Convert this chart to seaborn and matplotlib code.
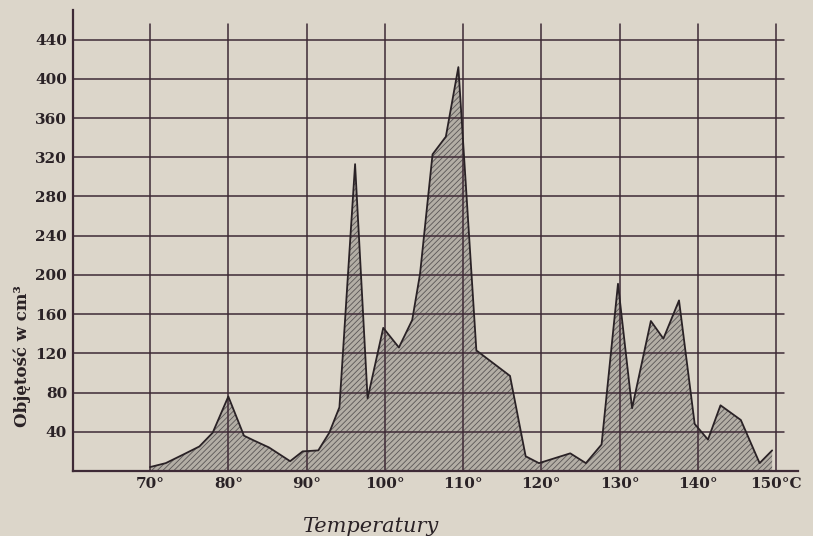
import numpy as np
import pandas as pd
import matplotlib.pyplot as plt
import seaborn as sns

# values (temperature in deg C, volume in cm3)
temps = [70, 72, 74.3, 76.3, 78, 80, 82, 83.3, 85.2, 87.9, 89.5, 91.5, 92.9,
         94.2, 96.2, 97.8, 99.8, 101.8, 103.5, 104.5, 106.1, 107.8, 109.4,
         111.7, 116, 118, 119.7, 121.7, 123.7, 125.7, 127.7, 129.8, 131.6,
         134, 135.6, 137.6, 139.6, 141.3, 142.9, 145.5, 147.9, 149.5]
volumes = [4, 8, 17, 25, 39, 76, 36, 31, 24, 10, 20, 21, 39,
           65, 313, 74, 146, 126, 154, 201, 323, 341, 412,
           123, 97, 15, 8, 13, 18, 8, 27, 191, 64,
           153, 135, 174, 48, 32, 67, 52, 8, 21]

x_ticks = [70, 80, 90, 100, 110, 120, 130, 140, 150]
x_labels = ["70°", "80°", "90°", "100°", "110°", "120°", "130°", "140°", "150°C"]
y_ticks = [40, 80, 120, 160, 200, 240, 280, 320, 360, 400, 440]

df = pd.DataFrame({"temp": temps, "vol": volumes})

sns.set_theme(style="white")
paper = "#dcd6ca"
ink = "#3e2a36"
plt.rcParams["font.family"] = ["DejaVu Serif"]
plt.rcParams["hatch.color"] = "#5a5656"
plt.rcParams["hatch.linewidth"] = 0.6

fig = plt.figure(figsize=(8.13, 5.36), dpi=100, facecolor=paper)
ax = fig.add_axes([0.0893, 0.1213, 0.8922, 0.8596])
ax.set_facecolor(paper)

ax.fill_between(df["temp"], df["vol"], 0, facecolor="#b3aea5", edgecolor="#5a5656",
                hatch="//////", lw=0, zorder=1)

# grid drawn by hand so the lines stop where the printed ones do
for xv in x_ticks:
    ax.plot([xv, xv], [0, 456], color=ink, lw=1.1, zorder=2)
for yv in y_ticks:
    ax.plot([60.1, 151.0], [yv, yv], color=ink, lw=1.1, zorder=2)

sns.lineplot(data=df, x="temp", y="vol", color="#2a2226", lw=1.3, ax=ax, zorder=3)

ax.set_xlim(60.1, 152.8)
ax.set_ylim(0, 470)
ax.set_xticks(x_ticks)
ax.set_xticklabels(x_labels, fontsize=11, fontweight="semibold")
ax.set_yticks(y_ticks)
ax.set_yticklabels([str(v) for v in y_ticks], fontsize=11, fontweight="semibold")
ax.tick_params(length=0, pad=4, colors="#2a2226")

for s in ["top", "right"]:
    ax.spines[s].set_visible(False)
for s in ["left", "bottom"]:
    ax.spines[s].set_color(ink)
    ax.spines[s].set_linewidth(1.6)

ax.set_xlabel("Temperatury", fontsize=15, style="italic", color="#2a2226")
ax.xaxis.set_label_coords(0.41, -0.1)
ax.set_ylabel("Objętość w cm³", fontsize=12, color="#2a2226", fontweight="semibold")
ax.yaxis.set_label_coords(-0.058, 0.25)

fig.savefig("out.png", dpi=100, facecolor=paper)
